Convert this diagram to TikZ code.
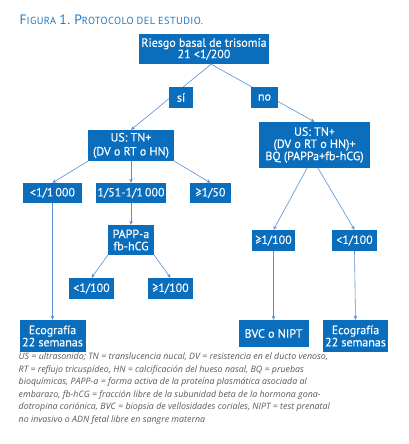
\documentclass[tikz,border=0pt]{standalone}
\usepackage{fontspec}
\setmainfont{PT Sans}
\newfontfamily\boxfont{PT Sans}[FakeBold=0.3]
\newfontfamily\titlefont{PT Sans}[LetterSpace=4]
\newfontfamily\notefont{Open Sans}
\usetikzlibrary{arrows.meta}
\definecolor{boxblue}{HTML}{0A6EBD}
\definecolor{lineblue}{HTML}{5A8FCF}
\definecolor{titleblue}{HTML}{1F78C1}
\definecolor{notegray}{HTML}{58595B}
\newcommand{\capword}[2]{{\fontsize{13.6}{14}\selectfont #1}{\fontsize{10.3}{11}\selectfont #2}}
\begin{document}
\begin{tikzpicture}[x=1pt,y=-1pt]
  \tikzstyle{box} = [rectangle, fill=boxblue, text=white, inner sep=0pt, align=center, font=\boxfont\fontsize{12}{12.2}\selectfont]
  \tikzstyle{arrow} = [-{Stealth[length=4pt,width=3.6pt]}, draw=lineblue, line width=0.6pt]

  \useasboundingbox (0,0) rectangle (408,444);

  % title
  \node [anchor=base west, inner sep=0pt, text=titleblue, font=\titlefont] at (19.5,24.5) (title)
    {\capword{F}{IGURA} \capword{1.}{} \capword{P}{ROTOCOLO} \capword{}{DEL} \capword{}{ESTUDIO.}};

  \node [box, minimum width=130, minimum height=30, font=\boxfont\fontsize{12}{11.4}\selectfont] at (204,49) (riesgo) {Riesgo basal de trisomía\\21 <1/200};
  \node [box, minimum width=86, minimum height=31, font=\boxfont\fontsize{12}{14}\selectfont] at (131,145.5) (us1) {US: TN+\\(DV o RT o HN)};
  \node [box, minimum width=111, minimum height=46] at (314.5,145) (us2) {US: TN+\\(DV o RT o HN)+\\BQ (PAPPa+fb-hCG)};
  \node [box, minimum width=59, minimum height=20] at (52.5,193) (lt1000) {<1/1\,000};
  \node [box, minimum width=70, minimum height=20] at (131,193) (mid) {1/51-1/1\,000};
  \node [box, minimum width=41, minimum height=20] at (210.5,193) (ge50) {≥1/50};
  \node [box, minimum width=46, minimum height=30] at (131,240) (papp) {PAPP-a\\fb-hCG};
  \node [box, minimum width=45, minimum height=21] at (91.5,288.5) (lt100a) {<1/100};
  \node [box, minimum width=45, minimum height=21] at (170.5,288.5) (ge100a) {≥1/100};
  \node [box, minimum width=43, minimum height=21] at (273.5,240.5) (ge100b) {≥1/100};
  \node [box, minimum width=45, minimum height=21] at (354.5,240.5) (lt100b) {<1/100};
  \node [box, minimum width=66, minimum height=32] at (52.5,336) (eco1) {Ecografía\\22 semanas};
  \node [box, minimum width=70, minimum height=27] at (273.5,333.5) (bvc) {BVC o NIPT};
  \node [box, minimum width=65, minimum height=32] at (355.5,336) (eco2) {Ecografía\\22 semanas};

  \draw[arrow] ([xshift=7pt]riesgo.south) to (us1.north);
  \draw[arrow] ([xshift=7pt]riesgo.south) to (us2.north);
  \node [box, minimum width=24, minimum height=21] at (181,97.5) (si) {sí};
  \node [box, minimum width=27, minimum height=21] at (264.5,97.5) (no) {no};

  \draw[arrow] (us1.south west) to (lt1000.north);
  \draw[arrow] (us1.south) to (mid.north);
  \draw[arrow] (us1.south east) to (ge50.north);
  \draw[arrow] (lt1000.south) to (eco1.north);
  \draw[arrow] (mid.south) to (papp.north);
  \draw[arrow] (papp.south west) to (lt100a.north);
  \draw[arrow] (papp.south east) to (ge100a.north);
  \draw[arrow] ([xshift=-7.5pt]us2.south) to (ge100b.north);
  \draw[arrow] ([xshift=3.5pt]us2.south) to (lt100b.north);
  \draw[arrow] (ge100b.south) to (bvc.north);
  \draw[arrow] (lt100b.south) to (eco2.north);

  % notes
  \node [anchor=north west, inner sep=0pt, align=left, text=notegray, font=\notefont\itshape\fontsize{8.85}{12.6}\selectfont] at (18.5,352.5) (notes)
    {US = ultrasonido; TN = translucencia nucal, DV = resistencia en el ducto venoso,\\
     RT = reflujo tricuspídeo, HN = calcificación del hueso nasal, BQ = pruebas\\
     bioquímicas, PAPP-a = forma activa de la proteína plasmática asociada al\\
     embarazo, fb-hCG = fracción libre de la subunidad beta de la hormona gona-\\
     dotropina coriónica, BVC = biopsia de vellosidades coriales, NIPT = test prenatal\\
     no invasivo o ADN fetal libre en sangre materna};
\end{tikzpicture}
\end{document}
